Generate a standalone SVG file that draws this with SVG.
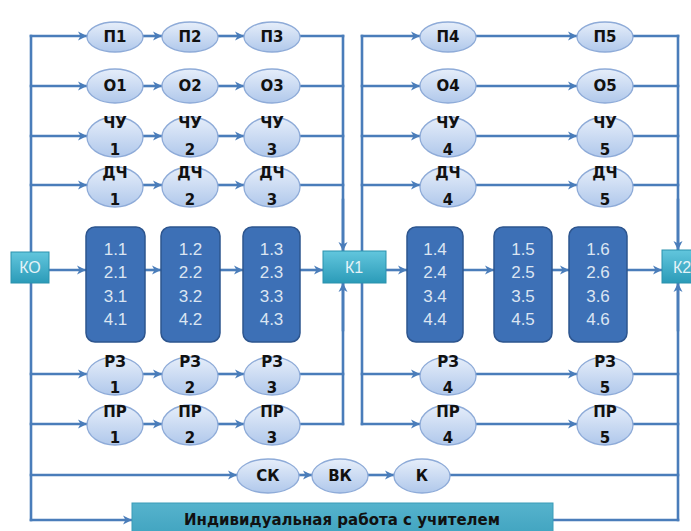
<svg xmlns="http://www.w3.org/2000/svg" width="691" height="531" viewBox="0 0 691 531">
<style>
.ln{fill:none;stroke:#4a7dba;stroke-width:2.6;stroke-linecap:square}
.ar{marker-end:url(#ah)}
.el{fill:url(#eg);stroke:#8eabd8;stroke-width:1.3}
.et{font-family:"DejaVu Sans",sans-serif;font-weight:bold;font-size:15px;fill:#111;text-anchor:middle}
.bx{fill:#3d70b6;stroke:#2d558e;stroke-width:1.5}
.bt{font-family:"Liberation Sans",sans-serif;font-size:17px;fill:#dbe5f2;text-anchor:middle}
.kb{fill:url(#kg);stroke:#2a92ad;stroke-width:1}
.kt{font-family:"Liberation Sans",sans-serif;font-size:16px;fill:#e4f3f8;text-anchor:middle}
</style>
<defs>
<linearGradient id="eg" x1="0" y1="0" x2="0" y2="1">
<stop offset="0" stop-color="#e6eefa"/>
<stop offset="1" stop-color="#b0c8eb"/>
</linearGradient>
<linearGradient id="kg" x1="0" y1="0" x2="0" y2="1">
<stop offset="0" stop-color="#62c6dd"/>
<stop offset="1" stop-color="#2b9bb8"/>
</linearGradient>
<linearGradient id="bg" x1="0" y1="0" x2="0" y2="1">
<stop offset="0" stop-color="#56b3cd"/>
<stop offset="1" stop-color="#3ea2be"/>
</linearGradient>
<marker id="ah" markerUnits="userSpaceOnUse" markerWidth="10" markerHeight="10" refX="9" refY="5" orient="auto">
<path d="M0,0.5 L9,5 L0,9.5 L2.5,5 z" fill="#4a7dba"/>
</marker>
</defs>
<rect width="691" height="531" fill="#ffffff"/>
<g id="connectors">
<path class="ln" d="M31,36 V520"/>
<path class="ln" d="M343,36 V424"/>
<path class="ln" d="M362,36 V424"/>
<path class="ln" d="M678,36 V520"/>
<path class="ln ar" d="M343,200 V251"/>
<path class="ln ar" d="M343,330 V283"/>
<path class="ln ar" d="M678,200 V250"/>
<path class="ln ar" d="M678,330 V283"/>
<path class="ln ar" d="M31,36 H87"/><path class="ln ar" d="M143,36 H162"/><path class="ln ar" d="M218,36 H244"/><path class="ln" d="M300,36 H343"/>
<path class="ln ar" d="M31,86 H87"/><path class="ln ar" d="M143,86 H162"/><path class="ln ar" d="M218,86 H244"/><path class="ln" d="M300,86 H343"/>
<path class="ln ar" d="M31,136 H87"/><path class="ln ar" d="M143,136 H162"/><path class="ln ar" d="M218,136 H244"/><path class="ln" d="M300,136 H343"/>
<path class="ln ar" d="M31,185 H87"/><path class="ln ar" d="M143,185 H162"/><path class="ln ar" d="M218,185 H244"/><path class="ln" d="M300,185 H343"/>
<path class="ln ar" d="M31,374 H87"/><path class="ln ar" d="M143,374 H162"/><path class="ln ar" d="M218,374 H244"/><path class="ln" d="M300,374 H343"/>
<path class="ln ar" d="M31,424 H87"/><path class="ln ar" d="M143,424 H162"/><path class="ln ar" d="M218,424 H244"/><path class="ln" d="M300,424 H343"/>
<path class="ln ar" d="M362,36 H420"/><path class="ln ar" d="M476,36 H577"/><path class="ln" d="M633,36 H678"/>
<path class="ln ar" d="M362,86 H420"/><path class="ln ar" d="M476,86 H577"/><path class="ln" d="M633,86 H678"/>
<path class="ln ar" d="M362,136 H420"/><path class="ln ar" d="M476,136 H577"/><path class="ln" d="M633,136 H678"/>
<path class="ln ar" d="M362,185 H420"/><path class="ln ar" d="M476,185 H577"/><path class="ln" d="M633,185 H678"/>
<path class="ln ar" d="M362,374 H420"/><path class="ln ar" d="M476,374 H577"/><path class="ln" d="M633,374 H678"/>
<path class="ln ar" d="M362,424 H420"/><path class="ln ar" d="M476,424 H577"/><path class="ln" d="M633,424 H678"/>
<path class="ln ar" d="M49,270 H86"/><path class="ln ar" d="M145,270 H161"/><path class="ln ar" d="M220,270 H243"/><path class="ln ar" d="M300,270 H323"/>
<path class="ln ar" d="M386,270 H407"/><path class="ln ar" d="M463,270 H494"/><path class="ln ar" d="M552,270 H569"/><path class="ln ar" d="M627,270 H662"/>
<path class="ln ar" d="M31,475 H237"/><path class="ln ar" d="M299,475 H312"/><path class="ln ar" d="M368,475 H394"/><path class="ln" d="M450,475 H678"/>
<path class="ln ar" d="M31,520 H132"/><path class="ln" d="M553,520 H678"/>
</g>
<g id="P1"><ellipse class="el" cx="115" cy="37" rx="28" ry="15"/><text class="et" x="115" y="42">П1</text></g>
<g id="P2"><ellipse class="el" cx="190" cy="37" rx="28" ry="15"/><text class="et" x="190" y="42">П2</text></g>
<g id="P3"><ellipse class="el" cx="272" cy="37" rx="28" ry="15"/><text class="et" x="272" y="42">П3</text></g>
<g id="P4"><ellipse class="el" cx="448" cy="37" rx="28" ry="15"/><text class="et" x="448" y="42">П4</text></g>
<g id="P5"><ellipse class="el" cx="605" cy="37" rx="28" ry="15"/><text class="et" x="605" y="42">П5</text></g>
<g id="O1"><ellipse class="el" cx="115" cy="86" rx="28" ry="17"/><text class="et" x="115" y="91">О1</text></g>
<g id="O2"><ellipse class="el" cx="190" cy="86" rx="28" ry="17"/><text class="et" x="190" y="91">О2</text></g>
<g id="O3"><ellipse class="el" cx="272" cy="86" rx="28" ry="17"/><text class="et" x="272" y="91">О3</text></g>
<g id="O4"><ellipse class="el" cx="448" cy="86" rx="28" ry="17"/><text class="et" x="448" y="91">О4</text></g>
<g id="O5"><ellipse class="el" cx="605" cy="86" rx="28" ry="17"/><text class="et" x="605" y="91">О5</text></g>
<g id="CHU1"><ellipse class="el" cx="115" cy="137" rx="28" ry="20"/><text class="et" x="115" y="128">ЧУ</text><text class="et" x="115" y="155">1</text></g>
<g id="CHU2"><ellipse class="el" cx="190" cy="137" rx="28" ry="20"/><text class="et" x="190" y="128">ЧУ</text><text class="et" x="190" y="155">2</text></g>
<g id="CHU3"><ellipse class="el" cx="272" cy="137" rx="28" ry="20"/><text class="et" x="272" y="128">ЧУ</text><text class="et" x="272" y="155">3</text></g>
<g id="CHU4"><ellipse class="el" cx="448" cy="137" rx="28" ry="20"/><text class="et" x="448" y="128">ЧУ</text><text class="et" x="448" y="155">4</text></g>
<g id="CHU5"><ellipse class="el" cx="605" cy="137" rx="28" ry="20"/><text class="et" x="605" y="128">ЧУ</text><text class="et" x="605" y="155">5</text></g>
<g id="DCH1"><ellipse class="el" cx="115" cy="187" rx="28" ry="20"/><text class="et" x="115" y="178">ДЧ</text><text class="et" x="115" y="205">1</text></g>
<g id="DCH2"><ellipse class="el" cx="190" cy="187" rx="28" ry="20"/><text class="et" x="190" y="178">ДЧ</text><text class="et" x="190" y="205">2</text></g>
<g id="DCH3"><ellipse class="el" cx="272" cy="187" rx="28" ry="20"/><text class="et" x="272" y="178">ДЧ</text><text class="et" x="272" y="205">3</text></g>
<g id="DCH4"><ellipse class="el" cx="448" cy="187" rx="28" ry="20"/><text class="et" x="448" y="178">ДЧ</text><text class="et" x="448" y="205">4</text></g>
<g id="DCH5"><ellipse class="el" cx="605" cy="187" rx="28" ry="20"/><text class="et" x="605" y="178">ДЧ</text><text class="et" x="605" y="205">5</text></g>
<g id="K0"><rect class="kb" x="11" y="252" width="38" height="31"/><text class="kt" x="30" y="273">КО</text></g>
<g id="K1"><rect class="kb" x="323" y="251" width="63" height="32"/><text class="kt" x="354" y="273">К1</text></g>
<g id="K2"><rect class="kb" x="662" y="250" width="40" height="33"/><text class="kt" x="682" y="273">К2</text></g>
<g id="B1"><rect class="bx" x="86" y="227" width="59" height="115" rx="9"/><text class="bt" x="115.5" y="255">1.1</text><text class="bt" x="115.5" y="278">2.1</text><text class="bt" x="115.5" y="302">3.1</text><text class="bt" x="115.5" y="325">4.1</text></g>
<g id="B2"><rect class="bx" x="161" y="227" width="59" height="115" rx="9"/><text class="bt" x="190.5" y="255">1.2</text><text class="bt" x="190.5" y="278">2.2</text><text class="bt" x="190.5" y="302">3.2</text><text class="bt" x="190.5" y="325">4.2</text></g>
<g id="B3"><rect class="bx" x="243" y="227" width="57" height="115" rx="9"/><text class="bt" x="271.5" y="255">1.3</text><text class="bt" x="271.5" y="278">2.3</text><text class="bt" x="271.5" y="302">3.3</text><text class="bt" x="271.5" y="325">4.3</text></g>
<g id="B4"><rect class="bx" x="407" y="227" width="56" height="115" rx="9"/><text class="bt" x="435" y="255">1.4</text><text class="bt" x="435" y="278">2.4</text><text class="bt" x="435" y="302">3.4</text><text class="bt" x="435" y="325">4.4</text></g>
<g id="B5"><rect class="bx" x="494" y="227" width="58" height="115" rx="9"/><text class="bt" x="523" y="255">1.5</text><text class="bt" x="523" y="278">2.5</text><text class="bt" x="523" y="302">3.5</text><text class="bt" x="523" y="325">4.5</text></g>
<g id="B6"><rect class="bx" x="569" y="227" width="58" height="115" rx="9"/><text class="bt" x="598" y="255">1.6</text><text class="bt" x="598" y="278">2.6</text><text class="bt" x="598" y="302">3.6</text><text class="bt" x="598" y="325">4.6</text></g>
<g id="RZ1"><ellipse class="el" cx="115" cy="376" rx="28" ry="19"/><text class="et" x="115" y="367">РЗ</text><text class="et" x="115" y="393">1</text></g>
<g id="RZ2"><ellipse class="el" cx="190" cy="376" rx="28" ry="19"/><text class="et" x="190" y="367">РЗ</text><text class="et" x="190" y="393">2</text></g>
<g id="RZ3"><ellipse class="el" cx="272" cy="376" rx="28" ry="19"/><text class="et" x="272" y="367">РЗ</text><text class="et" x="272" y="393">3</text></g>
<g id="RZ4"><ellipse class="el" cx="448" cy="376" rx="28" ry="19"/><text class="et" x="448" y="367">РЗ</text><text class="et" x="448" y="393">4</text></g>
<g id="RZ5"><ellipse class="el" cx="605" cy="376" rx="28" ry="19"/><text class="et" x="605" y="367">РЗ</text><text class="et" x="605" y="393">5</text></g>
<g id="PR1"><ellipse class="el" cx="115" cy="425" rx="28" ry="20"/><text class="et" x="115" y="417">ПР</text><text class="et" x="115" y="443">1</text></g>
<g id="PR2"><ellipse class="el" cx="190" cy="425" rx="28" ry="20"/><text class="et" x="190" y="417">ПР</text><text class="et" x="190" y="443">2</text></g>
<g id="PR3"><ellipse class="el" cx="272" cy="425" rx="28" ry="20"/><text class="et" x="272" y="417">ПР</text><text class="et" x="272" y="443">3</text></g>
<g id="PR4"><ellipse class="el" cx="448" cy="425" rx="28" ry="20"/><text class="et" x="448" y="417">ПР</text><text class="et" x="448" y="443">4</text></g>
<g id="PR5"><ellipse class="el" cx="605" cy="425" rx="28" ry="20"/><text class="et" x="605" y="417">ПР</text><text class="et" x="605" y="443">5</text></g>
<g id="SK"><ellipse class="el" cx="268" cy="476" rx="31" ry="17"/><text class="et" x="268" y="481">СК</text></g>
<g id="VK"><ellipse class="el" cx="340" cy="476" rx="28" ry="17"/><text class="et" x="340" y="481">ВК</text></g>
<g id="K"><ellipse class="el" cx="422" cy="476" rx="28" ry="17"/><text class="et" x="422" y="481">К</text></g>
<g id="IND"><rect x="132" y="503" width="421" height="36" fill="url(#bg)" stroke="#3a9cb8" stroke-width="1"/><text class="et" x="342" y="525" font-size="14">Индивидуальная работа с учителем</text></g>
</svg>
